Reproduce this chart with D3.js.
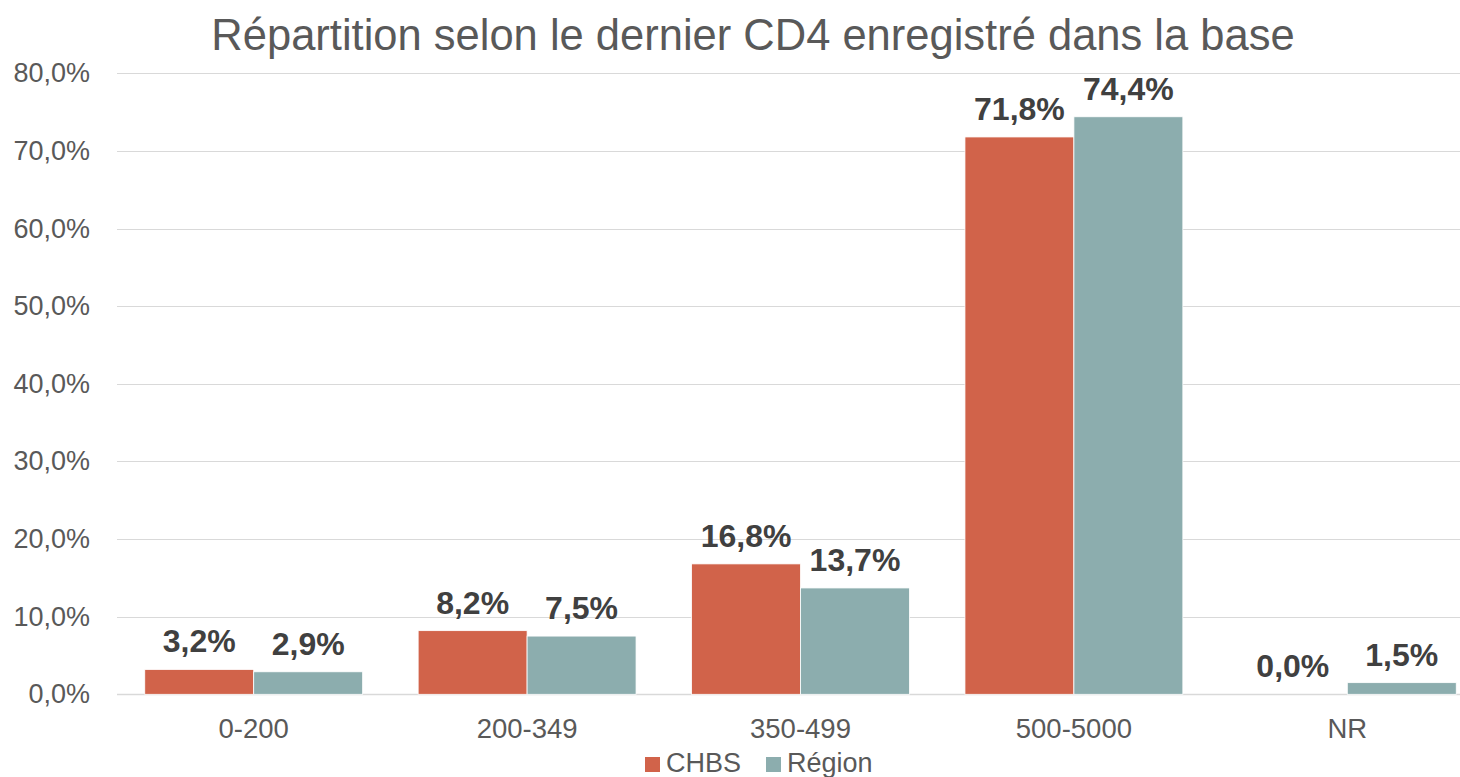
<!DOCTYPE html>
<html>
<head>
<meta charset="utf-8">
<script src="https://cdn.jsdelivr.net/npm/d3@7"></script>
<style>
  body { margin: 0; background: #fff; }
  svg { display: block; font-family: "Liberation Sans", Arial, sans-serif; }
</style>
</head>
<body>
<div id="chart"></div>
<script>
// chart data
const categories = ["0-200", "200-349", "350-499", "500-5000", "NR"];
const seriesNames = ["CHBS", "Région"];
const chbsValues = [3.2, 8.2, 16.8, 71.8, 0.0];
const regionValues = [2.9, 7.5, 13.7, 74.4, 1.5];
const yTicks = [0, 10, 20, 30, 40, 50, 60, 70, 80];
const colors = ["#D1634A", "#8CADAE"];

const width = 1460, height = 777;
const fmt = v => v.toFixed(1).replace(".", ",") + "%";

const svg = d3.select("#chart").append("svg")
    .attr("width", width)
    .attr("height", height);

// plot area (the right side runs past the picture edge, like the original)
const x0 = d3.scaleBand()
    .domain(categories)
    .range([117, 1484])
    .paddingInner(0.203)
    .paddingOuter(0.1015);

const x1 = d3.scaleBand()
    .domain(seriesNames)
    .range([0, x0.bandwidth()]);

const y = d3.scaleLinear()
    .domain([0, 80])
    .range([694.3, 73.3]);

// gridlines
svg.append("g")
    .selectAll("line")
    .data(yTicks)
    .enter().append("line")
    .attr("x1", 117)
    .attr("x2", width)
    .attr("y1", d => Math.round(y(d)) + 0.5)
    .attr("y2", d => Math.round(y(d)) + 0.5)
    .style("stroke", "#d9d9d9")
    .style("stroke-width", d => d === 0 ? 1.5 : 1);

// y tick labels
svg.append("g")
    .selectAll("text")
    .data(yTicks)
    .enter().append("text")
    .attr("x", 90)
    .attr("y", d => y(d))
    .attr("text-anchor", "end")
    .attr("dominant-baseline", "central")
    .style("font-size", "27px")
    .style("fill", "#595959")
    .text(d => fmt(d));

// bars
const rows = categories.map((c, i) => ({
    cat: c,
    vals: [
        { name: seriesNames[0], value: chbsValues[i] },
        { name: seriesNames[1], value: regionValues[i] }
    ]
}));

const groups = svg.append("g")
    .selectAll("g")
    .data(rows)
    .enter().append("g")
    .attr("transform", d => `translate(${x0(d.cat)},0)`);

groups.selectAll("rect")
    .data(d => d.vals)
    .enter().append("rect")
    .attr("x", d => x1(d.name))
    .attr("width", x1.bandwidth())
    .attr("y", d => y(d.value))
    .attr("height", d => y(0) - y(d.value))
    .style("fill", (d, i) => colors[i])
    .style("stroke", "#fff")
    .style("stroke-width", 0.8);

// data labels
groups.selectAll("text")
    .data(d => d.vals)
    .enter().append("text")
    .attr("x", d => x1(d.name) + x1.bandwidth() / 2)
    .attr("y", d => y(d.value) - 17)
    .attr("text-anchor", "middle")
    .style("font-size", "32px")
    .style("font-weight", "bold")
    .style("fill", "#404040")
    .text(d => fmt(d.value));

// category labels
svg.append("g")
    .selectAll("text")
    .data(categories)
    .enter().append("text")
    .attr("x", d => x0(d) + x0.bandwidth() / 2)
    .attr("y", 738)
    .attr("text-anchor", "middle")
    .style("font-size", "27.5px")
    .style("fill", "#595959")
    .text(d => d);

// title
svg.append("text")
    .attr("x", 753)
    .attr("y", 50)
    .attr("text-anchor", "middle")
    .style("font-size", "43.5px")
    .style("fill", "#595959")
    .text("Répartition selon le dernier CD4 enregistré dans la base");

// legend
const legendX = [645, 766];
const legend = svg.append("g")
    .selectAll("g")
    .data(seriesNames)
    .enter().append("g")
    .attr("transform", (d, i) => `translate(${legendX[i]},757)`);

legend.append("rect")
    .attr("width", 15)
    .attr("height", 15)
    .style("fill", (d, i) => colors[i]);

legend.append("text")
    .attr("x", 21)
    .attr("y", 15)
    .style("font-size", "27px")
    .style("fill", "#595959")
    .text(d => d);
</script>
</body>
</html>
